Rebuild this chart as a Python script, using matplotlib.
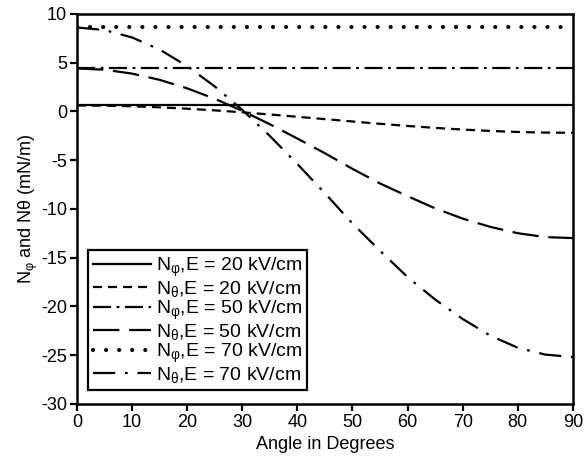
import numpy as np
import matplotlib
matplotlib.use('Agg')
import matplotlib.pyplot as plt

plt.rcParams['font.family'] = ['Liberation Sans', 'DejaVu Sans']
plt.rcParams['mathtext.fontset'] = 'custom'
plt.rcParams['mathtext.rm'] = 'Liberation Sans'
plt.rcParams['mathtext.it'] = 'Liberation Sans:italic'
plt.rcParams['lines.scale_dashes'] = False
plt.rcParams['axes.unicode_minus'] = False

# ── Data ────────────────────────────────────────────────────────────────────
angle = [0, 5, 10, 15, 20, 25, 30, 35, 40, 45, 50, 55, 60, 65, 70, 75, 80, 85, 90]

nphi_20 = [0.6] * len(angle)
ntheta_20 = [0.60, 0.58, 0.52, 0.41, 0.27, 0.10, -0.10, -0.32, -0.56, -0.80,
             -1.04, -1.28, -1.50, -1.70, -1.87, -2.01, -2.12, -2.18, -2.20]

nphi_50 = [4.4] * len(angle)
ntheta_50 = [4.40, 4.27, 3.87, 3.23, 2.36, 1.29, 0.05, -1.32, -2.79, -4.30,
             -5.90, -7.40, -8.70, -9.95, -11.00, -11.85, -12.50, -12.90, -13.00]

nphi_70 = [8.6] * len(angle)
ntheta_70 = [8.60, 8.34, 7.58, 6.34, 4.64, 2.56, 0.15, -2.52, -5.40, -8.40,
             -11.50, -14.30, -17.00, -19.30, -21.30, -23.00, -24.25, -24.95, -25.20]

labels = [r'N$_{\mathrm{φ}}$,E = 20 kV/cm',
          r'N$_{\mathrm{θ}}$,E = 20 kV/cm',
          r'N$_{\mathrm{φ}}$,E = 50 kV/cm',
          r'N$_{\mathrm{θ}}$,E = 50 kV/cm',
          r'N$_{\mathrm{φ}}$,E = 70 kV/cm',
          r'N$_{\mathrm{θ}}$,E = 70 kV/cm']

# ── Plot ────────────────────────────────────────────────────────────────────
fig = plt.figure(figsize=(5.87, 4.61), dpi=100)
ax = fig.add_axes([0.131, 0.124, 0.845, 0.846])

lw = 1.6
ax.plot(angle, nphi_20, color='black', lw=lw, ls='-', label=labels[0])
ax.plot(angle, ntheta_20, color='black', lw=lw, ls=(0, (6.5, 4.3)), label=labels[1])
ax.plot(angle, nphi_50, color='black', lw=lw, ls=(0, (13, 4, 2, 4)), label=labels[2])
ax.plot(angle, ntheta_50, color='black', lw=lw, ls=(0, (19, 7)), label=labels[3])
ax.plot(angle, nphi_70, color='black', lw=3.0, ls=(0, (0.01, 9.4)),
        dash_capstyle='round', label=labels[4])
ax.plot(angle, ntheta_70, color='black', lw=lw, ls=(0, (16, 7, 2, 7)), label=labels[5])

ax.set_xlim(0, 90)
ax.set_ylim(-30, 10)
ax.set_xticks(range(0, 91, 10))
ax.set_yticks(range(-30, 11, 5))
ax.tick_params(direction='out', length=5, width=1.6, labelsize=13,
               top=False, right=False, pad=2)
for sp in ax.spines.values():
    sp.set_linewidth(1.8)

ax.set_xlabel('Angle in Degrees', fontsize=13, labelpad=4)
ax.set_ylabel(r'N$_{\mathrm{φ}}$ and Nθ (mN/m)', fontsize=13, labelpad=1)

leg = ax.legend(loc='lower left', bbox_to_anchor=(0.022, 0.036), fontsize=14,
                handlelength=3.0, handletextpad=0.25, labelspacing=0.0,
                borderpad=0.25, borderaxespad=0, fancybox=False, framealpha=1)
leg.get_frame().set_edgecolor('black')
leg.get_frame().set_linewidth(1.6)

fig.savefig('out.png', dpi=100)
